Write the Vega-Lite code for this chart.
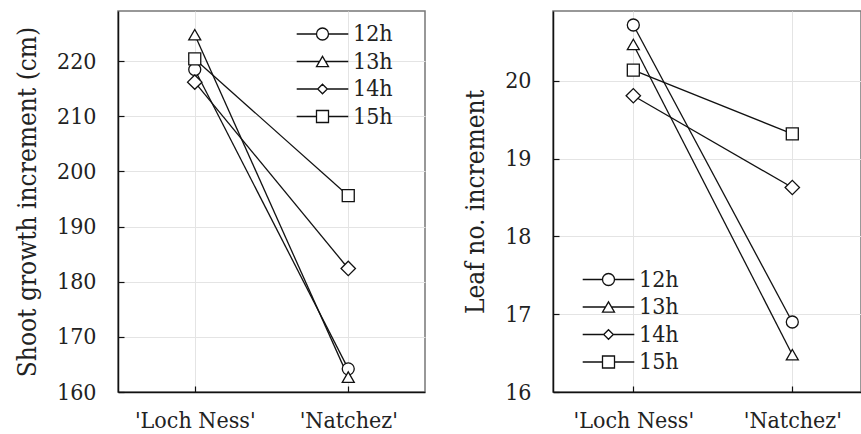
{
  "$schema": "https://vega.github.io/schema/vega-lite/v6.json",
  "padding": {"left": 13, "top": 10, "right": 0, "bottom": 0},
  "background": "white",
  "config": {
    "font": "DejaVu Serif Condensed, DejaVu Serif",
    "view": {"stroke": "#777", "strokeWidth": 1.5},
    "axis": {
      "labelFontSize": 23,
      "labelColor": "#222",
      "titleFontSize": 26,
      "titleFontWeight": "normal",
      "titleColor": "#222",
      "domainColor": "#111",
      "domainWidth": 1.5,
      "tickColor": "#111",
      "tickSize": -6,
      "tickWidth": 1.2,
      "gridColor": "#e4e4e4",
      "gridWidth": 1
    },
    "legend": {
      "labelFontSize": 23,
      "labelColor": "#222",
      "symbolSize": 144,
      "symbolStrokeWidth": 1.3,
      "rowPadding": 3.5,
      "labelOffset": 19,
      "padding": 0
    },
    "concat": {"spacing": 35}
  },
  "data": {
    "values": [
      {"variety": "'Loch Ness'", "photoperiod": "12h", "shoot": 218.5, "leaf": 20.72},
      {"variety": "'Loch Ness'", "photoperiod": "13h", "shoot": 224.8, "leaf": 20.47},
      {"variety": "'Loch Ness'", "photoperiod": "14h", "shoot": 216.2, "leaf": 19.81},
      {"variety": "'Loch Ness'", "photoperiod": "15h", "shoot": 220.4, "leaf": 20.14},
      {"variety": "'Natchez'", "photoperiod": "12h", "shoot": 164.2, "leaf": 16.9},
      {"variety": "'Natchez'", "photoperiod": "13h", "shoot": 162.7, "leaf": 16.48},
      {"variety": "'Natchez'", "photoperiod": "14h", "shoot": 182.4, "leaf": 18.63},
      {"variety": "'Natchez'", "photoperiod": "15h", "shoot": 195.6, "leaf": 19.32}
    ]
  },
  "resolve": {"scale": {"shape": "independent"}, "legend": {"shape": "independent"}},
  "hconcat": [
    {
      "width": 307,
      "height": 381,
      "encoding": {
        "x": {"field": "variety", "type": "nominal", "sort": null, "scale": {"type": "point", "padding": 0.5}, "axis": {"title": null, "labelAngle": 0, "grid": true, "labelPadding": 23}},
        "y": {"field": "shoot", "type": "quantitative", "scale": {"domain": [160, 229.1], "nice": false, "zero": false}, "axis": {"title": "Shoot growth increment (cm)", "values": [160, 170, 180, 190, 200, 210, 220], "grid": true, "labelPadding": 28, "titlePadding": 16}}
      },
      "resolve": {"scale": {"shape": "independent"}},
      "layer": [
        {"mark": {"type": "line", "color": "#111", "strokeWidth": 1.3}, "encoding": {"detail": {"field": "photoperiod"}}},
        {
          "mark": {"type": "point", "filled": true, "fill": "white", "stroke": "#111", "strokeWidth": 1.3, "size": 144, "opacity": 1},
          "encoding": {
            "shape": {
              "field": "photoperiod", "type": "nominal", "legend": null,
              "scale": {"domain": ["12h", "13h", "14h", "15h"], "range": ["circle", "triangle-up", "M-1.2,0L0,-1.2L1.2,0L0,1.2Z", "square"]}
            }
          }
        },
        {
          "transform": [{"filter": "false"}],
          "mark": {"type": "point", "filled": true, "fill": "white", "stroke": "#111", "strokeWidth": 1.3, "size": 144, "opacity": 1},
          "encoding": {
            "shape": {
              "field": "photoperiod", "type": "nominal",
              "scale": {"domain": ["12h", "13h", "14h", "15h"], "range": [
                "M-4.3,0H-1M1,0H4.3M-1,0A1,1,0,1,1,1,0A1,1,0,1,1,-1,0Z",
                "M-4.3,0H-0.5M0.5,0H4.3M0,-0.866L1,0.866H-1Z",
                "M-4.3,0H-0.8M0.8,0H4.3M-0.8,0L0,-0.8L0.8,0L0,0.8Z",
                "M-4.3,0H-1M1,0H4.3M-1,-1H1V1H-1Z"]},
              "legend": {"title": null, "orient": "none", "legendX": 193, "legendY": 11.5}
            }
          }
        }
      ]
    },
    {
      "width": 308,
      "height": 381,
      "encoding": {
        "x": {"field": "variety", "type": "nominal", "sort": null, "scale": {"type": "point", "padding": 0.4686, "align": 0.539}, "axis": {"title": null, "labelAngle": 0, "grid": true, "labelPadding": 23}},
        "y": {"field": "leaf", "type": "quantitative", "scale": {"domain": [16, 20.9], "nice": false, "zero": false}, "axis": {"title": "Leaf no. increment", "values": [16, 17, 18, 19, 20], "grid": true, "labelPadding": 28, "titlePadding": 16}}
      },
      "resolve": {"scale": {"shape": "independent"}},
      "layer": [
        {"mark": {"type": "line", "color": "#111", "strokeWidth": 1.3}, "encoding": {"detail": {"field": "photoperiod"}}},
        {
          "mark": {"type": "point", "filled": true, "fill": "white", "stroke": "#111", "strokeWidth": 1.3, "size": 144, "opacity": 1},
          "encoding": {
            "shape": {
              "field": "photoperiod", "type": "nominal", "legend": null,
              "scale": {"domain": ["12h", "13h", "14h", "15h"], "range": ["circle", "triangle-up", "M-1.2,0L0,-1.2L1.2,0L0,1.2Z", "square"]}
            }
          }
        },
        {
          "transform": [{"filter": "false"}],
          "mark": {"type": "point", "filled": true, "fill": "white", "stroke": "#111", "strokeWidth": 1.3, "size": 144, "opacity": 1},
          "encoding": {
            "shape": {
              "field": "photoperiod", "type": "nominal",
              "scale": {"domain": ["12h", "13h", "14h", "15h"], "range": [
                "M-4.3,0H-1M1,0H4.3M-1,0A1,1,0,1,1,1,0A1,1,0,1,1,-1,0Z",
                "M-4.3,0H-0.5M0.5,0H4.3M0,-0.866L1,0.866H-1Z",
                "M-4.3,0H-0.8M0.8,0H4.3M-0.8,0L0,-0.8L0.8,0L0,0.8Z",
                "M-4.3,0H-1M1,0H4.3M-1,-1H1V1H-1Z"]},
              "legend": {"title": null, "orient": "none", "legendX": 44, "legendY": 257}
            }
          }
        }
      ]
    }
  ]
}
